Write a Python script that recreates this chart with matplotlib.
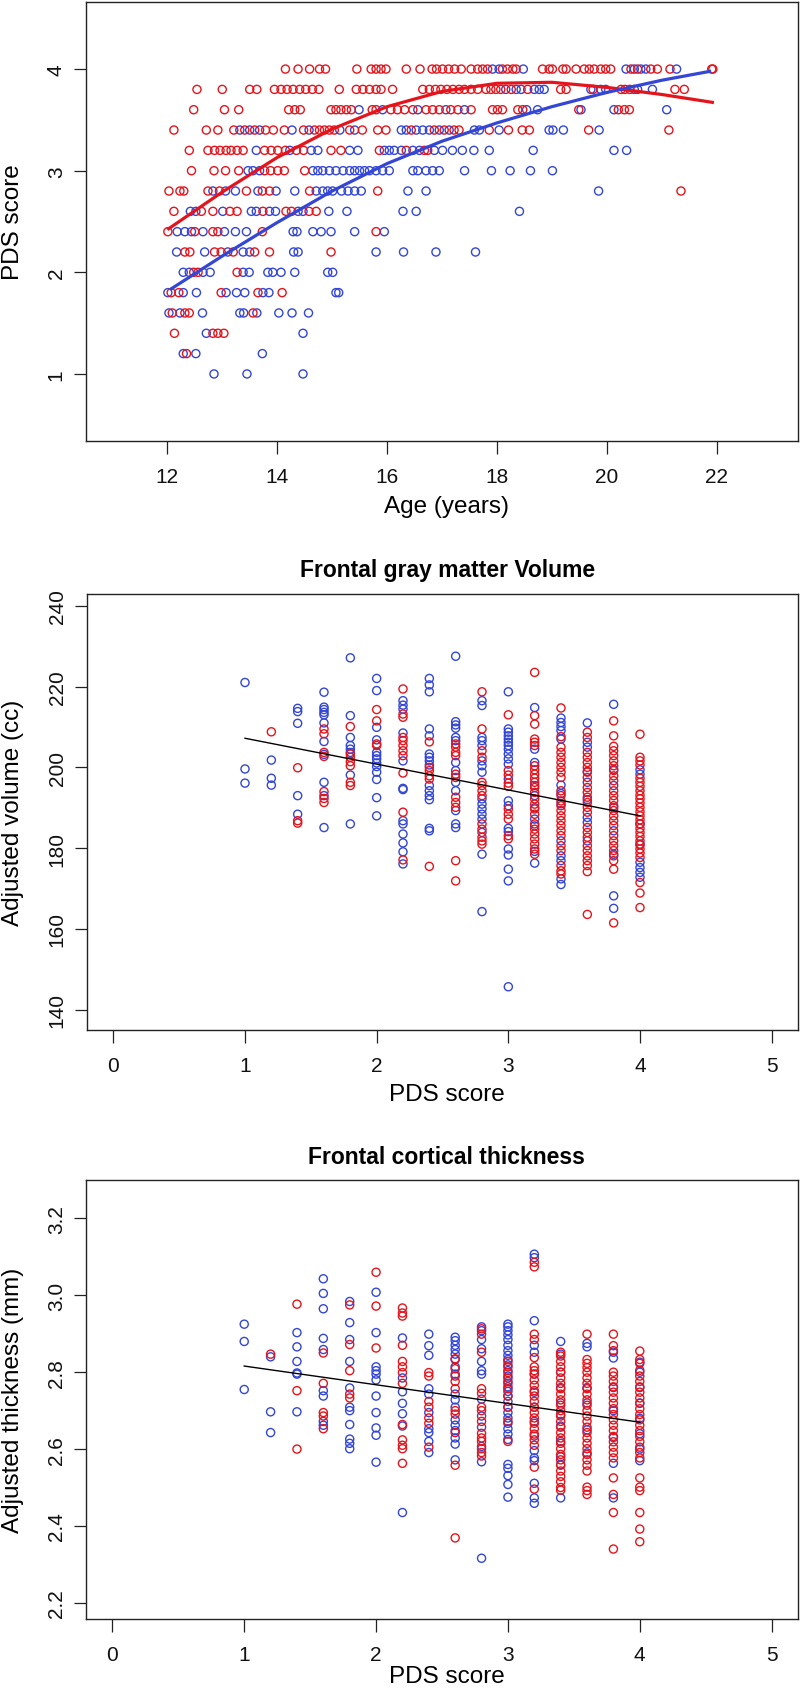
import matplotlib
matplotlib.use('Agg')
import matplotlib.pyplot as plt

plt.rcParams['font.family'] = ['Liberation Sans', 'DejaVu Sans']

RED = '#E5141C'
BLUE = '#3346D6'

# ---------------- Panel 1: PDS score vs age ----------------
age_red = {
    4.0: [14.15, 14.38, 14.59, 14.77, 14.88, 15.45, 15.71, 15.80, 15.89, 15.98, 16.35, 16.60, 16.82, 16.90,
          17.01, 17.12, 17.23, 17.35, 17.53, 17.65, 17.74, 17.83, 18.10, 18.19, 18.29, 18.35, 18.83, 18.95,
          19.01, 19.20, 19.26, 19.44, 19.59, 19.68, 19.77, 19.89, 19.98, 20.07, 20.44, 20.56, 20.80, 20.92,
          21.15, 21.91, 21.93],
    3.8: [12.54, 13.00, 13.50, 13.63, 13.95, 14.07, 14.18, 14.29, 14.41, 14.52, 14.64, 14.76, 15.13, 15.44,
          15.56, 15.68, 15.80, 15.89, 16.10, 16.65, 16.77, 16.88, 16.98, 17.09, 17.20, 17.31, 17.41, 17.53,
          17.65, 17.80, 17.89, 17.98, 18.07, 18.26, 18.56, 19.16, 19.26, 19.75, 20.26, 20.33, 20.42, 21.24, 21.41],
    3.6: [12.48, 13.04, 13.30, 14.21, 14.32, 14.42, 14.98, 15.07, 15.16, 15.26, 15.35, 15.73, 15.80, 16.07,
          16.19, 16.32, 16.47, 16.71, 16.83, 16.95, 17.16, 17.29, 17.53, 17.92, 18.01, 18.10, 18.38, 18.47,
          19.49, 20.21, 20.32, 20.41],
    3.4: [12.12, 12.71, 12.92, 13.21, 13.41, 13.59, 13.79, 13.93, 14.13, 14.48, 14.68, 14.77, 14.86, 14.95,
          15.04, 15.32, 15.55, 15.83, 15.98, 16.44, 16.86, 17.04, 17.22, 17.31, 17.86, 18.21, 18.46, 18.59,
          19.67, 21.13],
    3.2: [12.40, 12.74, 12.86, 12.96, 13.07, 13.16, 13.27, 13.38, 13.77, 13.89, 14.01, 14.15, 14.35, 14.48,
          14.98, 15.16, 15.86, 16.35, 16.68, 16.74],
    3.0: [12.44, 12.85, 13.06, 13.30, 13.77, 13.88, 14.01, 14.13, 14.50],
    2.8: [12.03, 12.23, 12.30, 12.74, 12.95, 13.44, 13.73, 13.86, 14.59, 15.83, 21.35],
    2.6: [12.12, 12.62, 12.83, 13.14, 13.27, 13.74, 14.16, 14.26, 14.58, 14.71],
    2.4: [12.01, 12.50, 12.83, 12.92, 13.73, 15.80],
    2.2: [12.32, 12.41, 12.86, 12.98, 13.20, 13.59, 13.86, 14.98],
    2.0: [12.48, 12.56, 13.27],
    1.8: [12.07, 12.21, 12.98, 13.65, 14.09],
    1.6: [12.09, 12.32, 12.40, 13.56],
    1.4: [12.13, 12.83, 12.92, 13.03],
    1.2: [12.35],
}
age_blue = {
    4.0: [17.92, 18.04, 18.48, 20.35, 20.50, 20.62, 20.71, 21.27],
    3.8: [18.16, 18.35, 18.44, 18.68, 18.77, 18.86, 19.71, 19.89, 19.98, 20.50, 20.56, 20.83],
    3.6: [15.49, 15.92, 16.56, 17.07, 17.41, 18.54, 18.74, 19.53, 20.13, 21.09],
    3.4: [13.32, 13.50, 13.68, 14.27, 14.58, 15.14, 15.41, 16.26, 16.35, 16.53, 16.65, 16.77, 16.95, 17.13,
          17.59, 17.68, 18.04, 18.95, 19.02, 19.21, 19.86],
    3.2: [13.62, 14.23, 14.62, 14.74, 15.32, 15.47, 15.95, 16.04, 16.13, 16.26, 16.47, 16.59, 16.86, 17.01,
          17.19, 17.37, 17.58, 17.86, 18.66, 20.13, 20.36],
    3.0: [13.47, 13.56, 13.68, 14.65, 14.74, 14.83, 14.95, 15.07, 15.20, 15.32, 15.41, 15.50, 15.59, 15.68,
          15.80, 15.92, 16.04, 16.47, 16.56, 16.71, 16.83, 16.95, 17.41, 17.90, 18.24, 18.61, 19.01],
    2.8: [12.83, 13.06, 13.24, 13.65, 13.98, 14.32, 14.71, 14.83, 14.92, 15.01, 15.17, 15.29, 15.41, 15.53,
          16.38, 16.71, 19.85],
    2.6: [12.42, 12.52, 13.01, 13.53, 13.62, 13.86, 13.97, 14.38, 14.47, 14.94, 15.27, 16.29, 16.53, 18.41],
    2.4: [12.18, 12.32, 12.44, 12.65, 13.04, 13.24, 13.44, 14.29, 14.36, 14.65, 14.80, 14.98, 15.41, 15.95],
    2.2: [12.17, 12.68, 13.10, 13.38, 13.50, 14.30, 14.38, 15.80, 16.30, 16.89, 17.61],
    2.0: [12.29, 12.40, 12.65, 12.78, 13.38, 13.49, 13.83, 13.92, 14.07, 14.32, 14.92, 15.01],
    1.8: [12.01, 12.29, 12.53, 13.07, 13.26, 13.41, 13.74, 13.85, 15.07, 15.12],
    1.6: [12.03, 12.23, 12.64, 13.32, 13.39, 13.63, 14.03, 14.27, 14.57],
    1.4: [12.71, 14.47],
    1.2: [12.29, 12.52, 13.73],
    1.0: [12.85, 13.45, 14.47],
}
curve_age_red = [12.0, 13.0, 14.0, 15.0, 16.0, 17.0, 18.0, 19.0, 20.0, 21.0, 21.95]
curve_pds_red = [2.42, 2.79, 3.13, 3.41, 3.63, 3.78, 3.86, 3.87, 3.82, 3.75, 3.67]
curve_age_blue = [12.05, 13.0, 14.0, 15.0, 16.0, 17.0, 18.0, 19.0, 20.0, 21.0, 21.9]
curve_pds_blue = [1.83, 2.16, 2.49, 2.80, 3.07, 3.29, 3.47, 3.63, 3.77, 3.89, 3.98]

# ---------------- Panel 2: frontal gray matter volume ----------------
vol_blue = {
    1.0: [221.0, 199.6, 196.1],
    1.2: [201.8, 197.3, 195.6],
    1.4: [214.6, 213.8, 210.9, 193.0, 188.4],
    1.6: [218.6, 214.9, 214.3, 213.6, 213.0, 211.0, 206.4, 203.2, 196.3, 193.0, 185.1],
    1.8: [227.1, 212.8, 207.4, 205.4, 204.5, 203.7, 198.1, 186.0],
    2.0: [222.0, 219.0, 209.9, 206.8, 203.7, 202.9, 202.1, 201.1, 200.2, 198.8, 197.0, 192.5, 188.0],
    2.2: [216.5, 215.4, 214.4, 208.5, 201.6, 194.8, 194.5, 186.8, 186.0, 183.5, 181.3, 179.1, 176.1],
    2.4: [222.0, 220.4, 218.7, 209.5, 207.8, 203.3, 202.5, 201.6, 200.6, 195.5, 194.2, 193.0, 192.0, 184.9, 184.3],
    2.6: [227.5, 211.3, 210.5, 209.7, 207.4, 206.6, 201.2, 199.2, 196.3, 194.2, 189.3, 186.0, 185.1],
    2.8: [216.5, 215.3, 207.4, 206.6, 205.4, 201.6, 200.4, 198.8, 192.2, 190.9, 189.7, 188.4, 187.2, 183.9,
          178.5, 164.3],
    3.0: [218.7, 209.5, 208.7, 207.8, 207.0, 206.2, 205.4, 204.5, 203.3, 202.1, 200.8, 197.1, 191.7, 190.5,
          184.9, 184.1, 179.8, 178.3, 174.8, 171.9, 145.7],
    3.2: [214.8, 204.5, 201.2, 195.5, 193.0, 190.0, 187.2, 185.5, 179.2, 176.3],
    3.4: [212.2, 211.1, 210.1, 209.1, 207.0, 195.6, 193.5, 191.0, 181.8, 178.1, 176.9, 172.4, 171.0],
    3.6: [211.0, 206.2, 205.0, 199.0, 196.3, 192.0, 187.6, 186.4, 181.8],
    3.8: [215.6, 199.5, 195.5, 190.0, 184.3, 178.5, 168.2, 165.1],
    4.0: [199.4, 198.3, 186.0, 181.0, 176.5, 175.2, 174.0, 172.8],
}
vol_red = {
    1.2: [208.8],
    1.4: [199.9, 186.8, 186.2],
    1.6: [209.5, 208.3, 203.7, 202.7, 194.0, 192.3, 191.3],
    1.8: [210.1, 203.3, 202.5, 201.4, 200.4, 196.3, 195.5],
    2.0: [214.3, 211.5, 205.8, 205.4],
    2.2: [219.4, 213.2, 212.4, 207.4, 206.6, 205.4, 204.1, 202.9, 198.6, 188.9, 177.1],
    2.4: [206.3, 200.0, 199.2, 197.9, 197.1, 175.5],
    2.6: [205.8, 205.0, 203.7, 202.9, 198.3, 197.5, 192.6, 191.3, 190.1, 176.9, 171.9],
    2.8: [218.7, 209.5, 204.1, 202.5, 196.3, 195.5, 194.2, 193.0, 186.0, 184.7, 182.7, 181.8, 181.0],
    3.0: [213.0, 199.2, 198.1, 196.1, 195.3, 189.7, 188.4, 187.2, 183.1, 182.3],
    3.2: [223.5, 212.8, 210.7, 207.0, 206.2, 205.4, 200.4, 199.4, 198.3, 197.3, 196.3, 195.0, 193.8, 192.2,
          190.9, 189.7, 188.4, 186.0, 184.7, 183.5, 182.3, 181.0, 179.8, 178.5],
    3.4: [214.7, 207.6, 205.0, 203.7, 202.5, 201.2, 200.0, 198.8, 197.5, 194.2, 193.0, 191.7, 190.5, 189.3,
          188.0, 186.8, 185.6, 184.3, 183.1, 180.6, 179.4, 175.7, 174.4, 173.6],
    3.6: [208.7, 207.4, 203.7, 202.5, 201.2, 200.0, 198.8, 197.5, 195.0, 193.8, 192.6, 191.3, 190.1, 188.9,
          185.1, 183.9, 182.7, 180.6, 179.4, 178.1, 176.9, 175.7, 174.2, 163.6],
    3.8: [211.5, 207.8, 205.2, 204.1, 202.9, 201.6, 200.4, 199.2, 197.9, 196.7, 194.2, 193.0, 191.8, 190.5,
          189.3, 188.0, 186.8, 185.6, 183.1, 181.8, 180.6, 179.4, 178.1, 176.9, 174.8, 161.5],
    4.0: [208.2, 202.5, 201.6, 200.6, 197.3, 196.3, 195.3, 194.2, 193.1, 192.2, 191.2, 190.1, 189.0, 188.0,
          187.0, 186.0, 184.9, 183.9, 182.9, 181.8, 180.8, 179.8, 178.8, 177.7, 171.5, 168.9, 165.3],
}
vol_line_x = [1.0, 4.0]
vol_line_y = [207.2, 188.0]

# ---------------- Panel 3: frontal cortical thickness ----------------
thk_blue = {
    1.0: [2.925, 2.880, 2.755],
    1.2: [2.840, 2.697, 2.643],
    1.4: [2.903, 2.866, 2.828, 2.798, 2.795, 2.697],
    1.6: [3.043, 3.005, 2.965, 2.888, 2.859, 2.752, 2.738, 2.672, 2.662],
    1.8: [2.984, 2.929, 2.885, 2.828, 2.759, 2.709, 2.700, 2.664, 2.626, 2.615, 2.601],
    2.0: [3.008, 2.903, 2.814, 2.804, 2.795, 2.780, 2.738, 2.695, 2.655, 2.636, 2.566],
    2.2: [2.889, 2.785, 2.749, 2.719, 2.692, 2.660, 2.435],
    2.4: [2.899, 2.869, 2.844, 2.757, 2.743, 2.695, 2.653, 2.643, 2.620, 2.591],
    2.6: [2.891, 2.882, 2.870, 2.859, 2.847, 2.833, 2.814, 2.795, 2.743, 2.728, 2.709, 2.676, 2.662, 2.648,
          2.629, 2.613, 2.572],
    2.8: [2.918, 2.908, 2.885, 2.861, 2.828, 2.804, 2.795, 2.730, 2.686, 2.657, 2.607, 2.567, 2.316],
    3.0: [2.925, 2.918, 2.908, 2.897, 2.885, 2.870, 2.856, 2.844, 2.833, 2.819, 2.804, 2.790, 2.776, 2.762,
          2.750, 2.738, 2.724, 2.709, 2.695, 2.681, 2.667, 2.653, 2.639, 2.625, 2.560, 2.550, 2.531, 2.508, 2.475],
    3.2: [3.107, 3.098, 2.934, 2.870, 2.852, 2.795, 2.748, 2.709, 2.672, 2.634, 2.596, 2.577, 2.570, 2.511,
          2.473, 2.459],
    3.4: [2.880, 2.847, 2.800, 2.760, 2.720, 2.690, 2.660, 2.620, 2.580, 2.560, 2.473],
    3.6: [2.875, 2.866, 2.760, 2.720, 2.650, 2.590],
    3.8: [2.852, 2.837, 2.760, 2.700, 2.630, 2.563, 2.473],
    4.0: [2.826, 2.800, 2.760, 2.720, 2.680, 2.640, 2.600, 2.570],
}
thk_red = {
    1.2: [2.847],
    1.4: [2.977, 2.752, 2.600],
    1.6: [2.850, 2.771, 2.695, 2.686, 2.653],
    1.8: [2.975, 2.872, 2.804, 2.743, 2.733],
    2.0: [3.060, 2.972, 2.863],
    2.2: [2.967, 2.954, 2.946, 2.870, 2.828, 2.814, 2.799, 2.771, 2.664, 2.624, 2.610, 2.601, 2.563],
    2.4: [2.799, 2.790, 2.724, 2.709, 2.681, 2.667, 2.605],
    2.6: [2.835, 2.809, 2.790, 2.776, 2.757, 2.700, 2.691, 2.643, 2.558, 2.369],
    2.8: [2.913, 2.899, 2.852, 2.757, 2.745, 2.709, 2.700, 2.672, 2.641, 2.629, 2.620, 2.601, 2.591, 2.582],
    3.0: [2.828, 2.814, 2.799, 2.785, 2.771, 2.757, 2.738, 2.709, 2.672, 2.620],
    3.2: [3.086, 3.074, 2.899, 2.885, 2.838, 2.814, 2.804, 2.795, 2.780, 2.766, 2.752, 2.738, 2.724, 2.709,
          2.695, 2.681, 2.667, 2.653, 2.639, 2.624, 2.610, 2.553, 2.496],
    3.4: [2.852, 2.842, 2.828, 2.814, 2.800, 2.785, 2.771, 2.757, 2.743, 2.728, 2.714, 2.700, 2.686, 2.672,
          2.657, 2.643, 2.629, 2.615, 2.601, 2.586, 2.572, 2.558, 2.543, 2.529, 2.515, 2.500, 2.493],
    3.6: [2.899, 2.833, 2.823, 2.812, 2.800, 2.785, 2.771, 2.757, 2.743, 2.728, 2.714, 2.700, 2.686, 2.672,
          2.657, 2.643, 2.629, 2.615, 2.601, 2.586, 2.572, 2.558, 2.543, 2.501, 2.492, 2.482],
    3.8: [2.899, 2.869, 2.856, 2.800, 2.790, 2.776, 2.762, 2.748, 2.733, 2.719, 2.705, 2.690, 2.676, 2.662,
          2.648, 2.633, 2.619, 2.605, 2.591, 2.577, 2.525, 2.482, 2.435, 2.340],
    4.0: [2.855, 2.833, 2.823, 2.805, 2.790, 2.776, 2.762, 2.748, 2.733, 2.719, 2.705, 2.690, 2.676, 2.662,
          2.648, 2.633, 2.619, 2.605, 2.591, 2.577, 2.525, 2.501, 2.492, 2.435, 2.392, 2.359],
}
thk_line_x = [1.0, 4.0]
thk_line_y = [2.816, 2.670]

x_ticks_age = [12, 14, 16, 18, 20, 22]
y_ticks_pds = [1, 2, 3, 4]
x_ticks_pds = [0, 1, 2, 3, 4, 5]
y_ticks_vol = [140, 160, 180, 200, 220, 240]
y_ticks_thk = [2.2, 2.4, 2.6, 2.8, 3.0, 3.2]

# ---------------- drawing ----------------
W, H = 801, 1690
fig = plt.figure(figsize=(W / 100, H / 100), dpi=100)
fig.patch.set_facecolor('white')


def add_ax(left, top, right, bottom):
    return fig.add_axes([left / W, 1 - bottom / H, (right - left) / W, (bottom - top) / H])


def ftext(x, y, s, **kw):
    fig.text(x / W, 1 - y / H, s, ha='center', va='center', **kw)


def flat(d, x_is_key=True):
    xs, ys = [], []
    for k, vals in d.items():
        for v in vals:
            if x_is_key:
                xs.append(k); ys.append(v)
            else:
                xs.append(v); ys.append(k)
    return xs, ys


MS = 34
LW = 1.0


def style(ax, xt, yt, ylabels):
    for sp in ax.spines.values():
        sp.set_linewidth(1.0)
        sp.set_color('#222222')
    ax.set_xticks(xt)
    ax.set_yticks(yt)
    ax.set_yticklabels(ylabels)
    ax.tick_params(axis='both', direction='out', length=9, width=0.9, color='#222222',
                   labelsize=15, labelcolor='#111111')
    ax.tick_params(axis='x', pad=10)
    ax.tick_params(axis='y', pad=5.5, labelrotation=90)
    for lab in ax.get_yticklabels():
        lab.set_va('center')


# Panel 1
ax1 = add_ax(86, 3, 798, 442)
bx, by = flat(age_blue, x_is_key=False)
rx, ry = flat(age_red, x_is_key=False)
ax1.scatter(bx, by, s=MS, facecolors='none', edgecolors=BLUE, linewidths=LW, zorder=2)
ax1.scatter(rx, ry, s=MS, facecolors='none', edgecolors=RED, linewidths=LW, zorder=2)
ax1.plot(curve_age_red, curve_pds_red, color=RED, lw=2.3, zorder=3, solid_capstyle='butt')
ax1.plot(curve_age_blue, curve_pds_blue, color=BLUE, lw=2.3, zorder=3, solid_capstyle='butt')
ax1.set_xlim(10.52, 23.48)
ax1.set_ylim(0.34, 4.66)
style(ax1, x_ticks_age, y_ticks_pds, [str(v) for v in y_ticks_pds])
ftext(447, 507, 'Age (years)', fontsize=17.5)
ftext(13, 222, 'PDS score', fontsize=17.5, rotation=90)

# Panel 2
ax2 = add_ax(87, 595, 798, 1031)
bx, by = flat(vol_blue)
rx, ry = flat(vol_red)
ax2.scatter(bx, by, s=MS, facecolors='none', edgecolors=BLUE, linewidths=LW, zorder=2)
ax2.scatter(rx, ry, s=MS, facecolors='none', edgecolors=RED, linewidths=LW, zorder=2)
ax2.plot(vol_line_x, vol_line_y, color='black', lw=1.0, zorder=3)
ax2.set_xlim(-0.2, 5.2)
ax2.set_ylim(135.0, 242.9)
style(ax2, x_ticks_pds, y_ticks_vol, [str(v) for v in y_ticks_vol])
ftext(448, 571, 'Frontal gray matter Volume', fontsize=16.5, fontweight='bold')
ftext(447, 1095, 'PDS score', fontsize=17.5)
ftext(13, 813, 'Adjusted volume (cc)', fontsize=17.5, rotation=90)

# Panel 3
ax3 = add_ax(86, 1181, 798, 1620)
bx, by = flat(thk_blue)
rx, ry = flat(thk_red)
ax3.scatter(bx, by, s=MS, facecolors='none', edgecolors=BLUE, linewidths=LW, zorder=2)
ax3.scatter(rx, ry, s=MS, facecolors='none', edgecolors=RED, linewidths=LW, zorder=2)
ax3.plot(thk_line_x, thk_line_y, color='black', lw=1.0, zorder=3)
ax3.set_xlim(-0.2, 5.2)
ax3.set_ylim(2.158, 3.30)
style(ax3, x_ticks_pds, y_ticks_thk, ['%.1f' % v for v in y_ticks_thk])
ftext(446, 1158, 'Frontal cortical thickness', fontsize=16.5, fontweight='bold')
ftext(447, 1677, 'PDS score', fontsize=17.5)
ftext(13, 1400, 'Adjusted thickness (mm)', fontsize=17.5, rotation=90)

fig.savefig('out.png', dpi=100, facecolor='white')
